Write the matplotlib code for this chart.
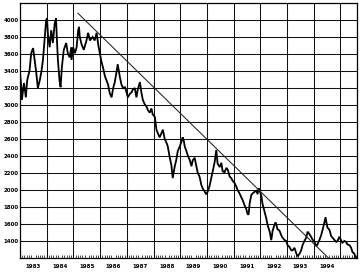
import numpy as np
import matplotlib
matplotlib.use("Agg")
import matplotlib.pyplot as plt

# price series (decimal year, index level)
years = [
    1983.00, 1983.05, 1983.07, 1983.15, 1983.20, 1983.22, 1983.27, 1983.36, 1983.42, 1983.49,
    1983.55, 1983.61, 1983.67, 1983.74, 1983.80, 1983.86, 1983.92, 1983.98, 1984.01, 1984.05,
    1984.11, 1984.17, 1984.23, 1984.30, 1984.35, 1984.38, 1984.42, 1984.48, 1984.52, 1984.57,
    1984.64, 1984.73, 1984.79, 1984.86, 1984.92, 1984.93, 1984.99, 1985.06, 1985.12, 1985.18,
    1985.21, 1985.24, 1985.31, 1985.39, 1985.49, 1985.55, 1985.62, 1985.72, 1985.80, 1985.87,
    1985.93, 1985.99, 1986.05, 1986.11, 1986.18, 1986.24, 1986.30, 1986.36, 1986.43, 1986.49,
    1986.55, 1986.61, 1986.66, 1986.74, 1986.80, 1986.86, 1986.93, 1986.99, 1987.04, 1987.11,
    1987.18, 1987.22, 1987.30, 1987.36, 1987.41, 1987.49, 1987.55, 1987.60, 1987.67, 1987.74,
    1987.79, 1987.86, 1987.92, 1987.97, 1988.05, 1988.11, 1988.16, 1988.23, 1988.30, 1988.35,
    1988.42, 1988.48, 1988.53, 1988.61, 1988.67, 1988.72, 1988.79, 1988.85, 1988.91, 1988.98,
    1989.04, 1989.09, 1989.13, 1989.17, 1989.22, 1989.28, 1989.36, 1989.42, 1989.47, 1989.54,
    1989.61, 1989.65, 1989.73, 1989.79, 1989.84, 1989.92, 1989.97, 1990.03, 1990.10, 1990.17,
    1990.21, 1990.29, 1990.35, 1990.40, 1990.48, 1990.54, 1990.59, 1990.66, 1990.73, 1990.78,
    1990.85, 1990.91, 1990.96, 1991.04, 1991.10, 1991.15, 1991.22, 1991.28, 1991.34, 1991.41,
    1991.47, 1991.52, 1991.56, 1991.60, 1991.66, 1991.71, 1991.79, 1991.85, 1991.90, 1991.93,
    1991.97, 1992.04, 1992.08, 1992.16, 1992.22, 1992.27, 1992.35, 1992.41, 1992.46, 1992.53,
    1992.57, 1992.61, 1992.64, 1992.72, 1992.78, 1992.83, 1992.91, 1992.97, 1993.02, 1993.09,
    1993.16, 1993.21, 1993.28, 1993.34, 1993.39, 1993.47, 1993.53, 1993.58, 1993.65, 1993.72,
    1993.77, 1993.84, 1993.90, 1993.95, 1994.03, 1994.09, 1994.14, 1994.21, 1994.27, 1994.33,
    1994.40, 1994.44, 1994.48, 1994.51, 1994.59, 1994.65, 1994.70, 1994.78, 1994.84, 1994.89,
    1994.96, 1995.02, 1995.07, 1995.15, 1995.21, 1995.26, 1995.34, 1995.40, 1995.45, 1995.52,
    1995.56,
]
prices = [
    3380, 3210, 3060, 3260, 3140, 3090, 3290, 3410, 3610, 3670,
    3530, 3380, 3200, 3290, 3390, 3530, 3760, 4000, 4020, 3820,
    3680, 3880, 3730, 3960, 4020, 3790, 3530, 3290, 3210, 3450,
    3650, 3730, 3610, 3560, 3680, 3530, 3680, 3610, 3680, 3880,
    3920, 3800, 3710, 3650, 3760, 3850, 3760, 3800, 3760, 3850,
    3710, 3610, 3510, 3440, 3340, 3290, 3240, 3140, 3090, 3200,
    3270, 3380, 3480, 3330, 3240, 3200, 3210, 3150, 3090, 3130,
    3150, 3180, 3200, 3090, 3180, 3270, 3140, 3060, 3010, 2980,
    2940, 2910, 2960, 2890, 2860, 2710, 2670, 2620, 2670, 2710,
    2600, 2560, 2520, 2380, 2290, 2140, 2270, 2350, 2460, 2510,
    2560, 2620, 2590, 2510, 2470, 2410, 2350, 2280, 2350, 2380,
    2270, 2210, 2150, 2060, 2020, 1980, 1950, 1980, 2050, 2150,
    2210, 2330, 2470, 2310, 2270, 2320, 2220, 2210, 2260, 2240,
    2160, 2140, 2110, 2080, 2040, 2000, 1960, 1920, 1880, 1820,
    1780, 1720, 1710, 1840, 1940, 1960, 1980, 1990, 1950, 2020,
    2000, 1930, 1840, 1740, 1670, 1590, 1510, 1410, 1520, 1590,
    1620, 1580, 1540, 1520, 1470, 1440, 1410, 1400, 1350, 1330,
    1290, 1290, 1320, 1260, 1220, 1250, 1290, 1350, 1400, 1440,
    1510, 1480, 1450, 1420, 1390, 1340, 1360, 1410, 1460, 1530,
    1620, 1680, 1610, 1560, 1530, 1460, 1440, 1410, 1390, 1400,
    1450, 1410, 1380, 1400, 1390, 1360, 1350, 1320, 1270, 1250,
    1210,
]

# hand-drawn down trend line
trend_x = [1985.17, 1994.55]
trend_y = [4080, 1200]

year_labels = [str(y) for y in range(1983, 1995)]
price_ticks = list(range(1400, 4001, 200))

fig = plt.figure(figsize=(3.62, 2.78), dpi=100)
ax = fig.add_axes([0.0552, 0.072, 0.931, 0.917])

ax.plot(years, prices, color="black", lw=1.3, solid_joinstyle="miter")
ax.plot(trend_x, trend_y, color="#222222", lw=0.75)

ax.set_xlim(1983, 1995.62)
ax.set_ylim(1200, 4200)

for yr in range(1984, 1996):
    ax.axvline(yr, color="#111111", lw=0.75, zorder=0)
for p in price_ticks:
    ax.axhline(p, color="#111111", lw=0.75, zorder=0)

ax.set_xticks(np.arange(1983, 1995) + 0.5)
ax.set_xticklabels(year_labels, fontsize=4, fontweight="bold")
ax.set_xticks(np.arange(1983, 1995.62, 1 / 12), minor=True)
ax.tick_params(axis="x", which="major", length=0, pad=4)
ax.tick_params(axis="x", which="minor", direction="in", length=2, width=0.5)

ax.set_yticks(price_ticks)
ax.set_yticklabels([str(p) for p in price_ticks], fontsize=4, fontweight="bold")
ax.tick_params(axis="y", length=0, pad=1)

for s in ax.spines.values():
    s.set_linewidth(0.9)

fig.savefig("out.png", dpi=100)
